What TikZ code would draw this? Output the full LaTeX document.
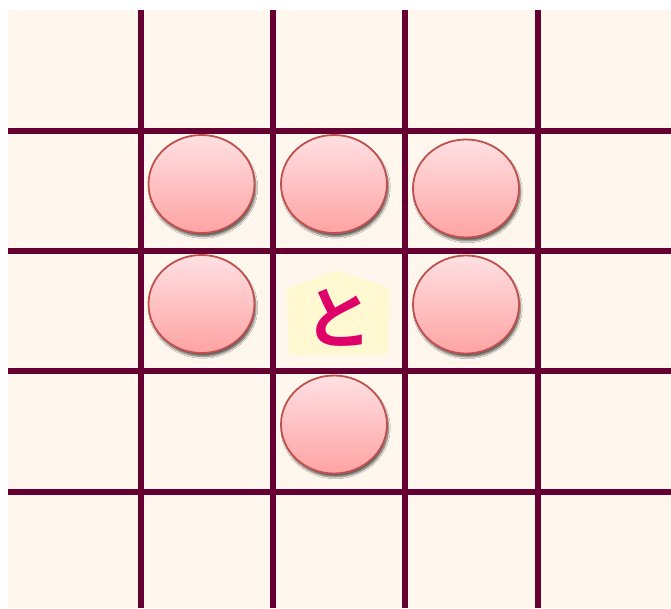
\documentclass[tikz,border=0pt]{standalone}
\usepackage{fontspec}
\newfontfamily\cjkfont{Noto Sans CJK JP Bold}
\usetikzlibrary{shapes.geometric,shadows.blur}
\definecolor{boardbg}{HTML}{FFF7EE}
\definecolor{gridline}{HTML}{660033}
\definecolor{markedge}{HTML}{C0504D}
\definecolor{marktop}{HTML}{FFE0E3}
\definecolor{markbot}{HTML}{FFA3A3}
\definecolor{piecefill}{HTML}{FFF8D0}
\definecolor{piecetext}{HTML}{E0006A}
\tikzset{
  gridl/.style={gridline, line width=6pt},
  movemark/.style={ellipse, draw=markedge, line width=1.8pt, minimum width=106pt, minimum height=98pt, inner sep=0pt,
     top color=marktop, bottom color=markbot,
     blur shadow={shadow xshift=1.5pt, shadow yshift=-3.5pt, shadow blur steps=6, shadow opacity=60}},
  piecebody/.style={fill=piecefill, draw=none},
  piecelabel/.style={text=piecetext, font=\cjkfont\fontsize{68}{68}\selectfont, inner sep=0pt}
}
\begin{document}
\begin{tikzpicture}[x=1pt, y=-1pt]
\useasboundingbox (0,0) rectangle (671,608);
\fill[white] (0,0) rectangle (671,608);
\fill[boardbg] (8,10) rectangle (671,608);
% grid lines
\foreach \gx in {141,273,405,538} \draw[gridl] (\gx,10) -- (\gx,608);
\foreach \gy in {131,251,371,492} \draw[gridl] (8,\gy) -- (671,\gy);
% move marks
\node[movemark] (m1) at (201.5,184) {};
\node[movemark] (m2) at (334,184) {};
\node[movemark] (m3) at (466,188.5) {};
\node[movemark] (m4) at (201.5,304) {};
\node[movemark] (m5) at (466,304.5) {};
\node[movemark] (m6) at (334,424.5) {};
% piece
\fill[piecebody] (336.7,270) -- (390,288.5) -- (387.5,355) -- (289.5,355) -- (286,288.5) -- cycle;
\node[piecelabel] (tokin) at (338,318) {と};
\end{tikzpicture}
\end{document}
